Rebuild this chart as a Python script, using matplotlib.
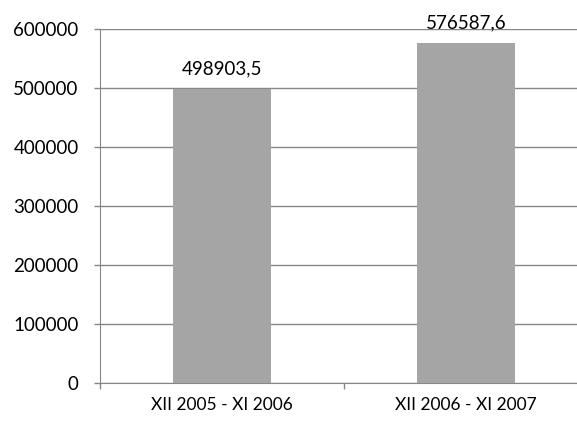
import matplotlib
matplotlib.use("Agg")
import matplotlib.pyplot as plt
import numpy as np

categories = ["XII 2005 - XI 2006", "XII 2006 - XI 2007"]
values = [498903.5, 576587.6]
value_labels = ["498903,5", "576587,6"]
y_ticks = [0, 100000, 200000, 300000, 400000, 500000, 600000]

plt.rcParams['font.family'] = ['Lato', 'DejaVu Sans']

fig = plt.figure(figsize=(5.77, 4.33), dpi=100)
ax = fig.add_axes([100 / 577, 50 / 433, 488 / 577, 354 / 433])

x = np.arange(len(categories))
ax.bar(x, values, width=0.4, color='#a5a5a5', zorder=3)

for xi, v, lab in zip(x, values, value_labels):
    ax.annotate(lab, (xi, v), xytext=(0, 8), textcoords='offset points',
                ha='center', va='bottom', fontsize=13.5, color='black')

ax.set_xlim(-0.5, len(categories) - 0.5)
ax.set_ylim(0, 600000)
ax.set_yticks(y_ticks)
ax.set_yticklabels([str(t) for t in y_ticks], fontsize=13.5)
ax.yaxis.grid(True, color='#868686', linewidth=1, zorder=0)

# category labels centred, ticks on the boundaries
ax.set_xticks(x)
ax.set_xticklabels(categories, fontsize=12.5)
ax.tick_params(axis='x', length=0, pad=10)
ax.set_xticks(np.arange(-0.5, len(categories)), minor=True)
ax.tick_params(axis='x', which='minor', length=4.3, color='#868686', width=1)
ax.tick_params(axis='y', length=4.3, color='#868686', width=1, pad=11)

for s in ['top', 'right']:
    ax.spines[s].set_visible(False)
ax.spines['left'].set_color('#868686')
ax.spines['bottom'].set_color('#868686')

fig.savefig("out.png", dpi=100)
